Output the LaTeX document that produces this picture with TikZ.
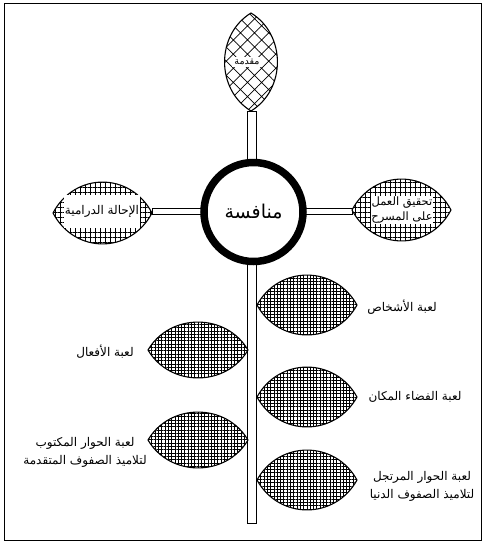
\documentclass[tikz,border=0pt]{standalone}
\usepackage{fontspec}
\TeXXeTstate=1
\newfontfamily\arabicfont[Script=Arabic]{DejaVu Sans}
\usetikzlibrary{patterns,patterns.meta}
% horizontal lens: x0 x1 y halfheight style
\newcommand\myleafh[5]{%
  \draw[#5] (#1,#3) .. controls ({#1+0.22*(#2-#1)},{#3-1.33*#4}) and ({#2-0.22*(#2-#1)},{#3-1.33*#4}) .. (#2,#3)
    .. controls ({#2-0.22*(#2-#1)},{#3+1.33*#4}) and ({#1+0.22*(#2-#1)},{#3+1.33*#4}) .. (#1,#3) -- cycle;}
% vertical lens: y0 y1 x halfwidth style
\newcommand\myleafv[5]{%
  \draw[#5] (#3,#1) .. controls ({#3+1.33*#4},{#1+0.22*(#2-#1)}) and ({#3+1.33*#4},{#2-0.22*(#2-#1)}) .. (#3,#2)
    .. controls ({#3-1.33*#4},{#2-0.22*(#2-#1)}) and ({#3-1.33*#4},{#1+0.22*(#2-#1)}) .. (#3,#1) -- cycle;}
\begin{document}
\begin{tikzpicture}[x=1pt,y=-1pt,
  leafline/.style={line width=1.1pt},
  diagleaf/.style={leafline,pattern={Hatch[angle=45,distance=10pt,line width=0.7pt]}},
  midleaf/.style={leafline,pattern={Hatch[angle=0,distance=5pt,line width=0.55pt]}},
  fineleaf/.style={leafline,pattern={Hatch[angle=0,distance=3.3pt,line width=0.6pt]}},
  bar/.style={line width=0.8pt,fill=white},
  lbl/.style={font=\arabicfont\fontsize{12}{18}\selectfont,align=center,inner sep=1pt},
  wlbl/.style={lbl,fill=white},
]
\useasboundingbox (0,0) rectangle (485,542);
\draw[line width=1pt] (4,3) rectangle (481,540);

% coordinates of leaf tips
\coordinate (topB) at (251,111);
\coordinate (leftR) at (152,211);
\coordinate (rightL) at (352,211);
\coordinate (stemB) at (252,523);

% stem and bars
\draw[bar] ([xshift=-4pt]topB) rectangle ([xshift=4pt]stemB);
\draw[bar] ([yshift=3pt]leftR) rectangle (253,214);
\draw[bar] (253,208) rectangle ([yshift=-3pt]rightL);

% upper leaves
\myleafv{13}{111}{251}{26.5}{diagleaf}
\myleafh{53}{152}{213}{31}{midleaf}
\myleafh{352}{451}{210}{31}{midleaf}

% lower leaves
\myleafh{257}{357}{305}{30}{fineleaf}
\myleafh{257}{357}{397}{30}{fineleaf}
\myleafh{257}{357}{480}{30}{fineleaf}
\myleafh{148}{248}{350}{28}{fineleaf}
\myleafh{148}{248}{440}{28}{fineleaf}

% center
\node[circle,draw,line width=7.5pt,fill=white,minimum size=99pt,inner sep=0pt,
  font=\arabicfont\fontsize{19}{22}\selectfont] (c) at (253.5,212) {\beginR منافسة\endR};

% labels
\node[wlbl,font=\arabicfont\fontsize{9.5}{11}\selectfont,inner sep=2pt] (t1) at (247,62) {\beginR مقدمة\endR};
\node[wlbl,minimum height=33pt,inner sep=0.5pt] (t2) at (102,211) {\beginR الإحالة الدرامية\endR};
\node[wlbl,font=\arabicfont\fontsize{11.5}{15}\selectfont,inner sep=0.5pt] (t3) at (402,210) {\beginR تحقيق العمل\endR\\\beginR على المسرح\endR};
\node[lbl] (t4) at (402,307) {\beginR لعبة الأشخاص\endR};
\node[lbl] (t5) at (415,397) {\beginR لعبة الفضاء المكان\endR};
\node[lbl] (t6) at (422,486) {\beginR لعبة الحوار المرتجل\endR\\\beginR لتلاميذ الصفوف الدنيا\endR};
\node[lbl] (t7) at (105,352) {\beginR لعبة الأفعال\endR};
\node[lbl] (t8) at (85,452) {\beginR لعبة الحوار المكتوب\endR\\\beginR لتلاميذ الصفوف المتقدمة\endR};
\end{tikzpicture}
\end{document}
